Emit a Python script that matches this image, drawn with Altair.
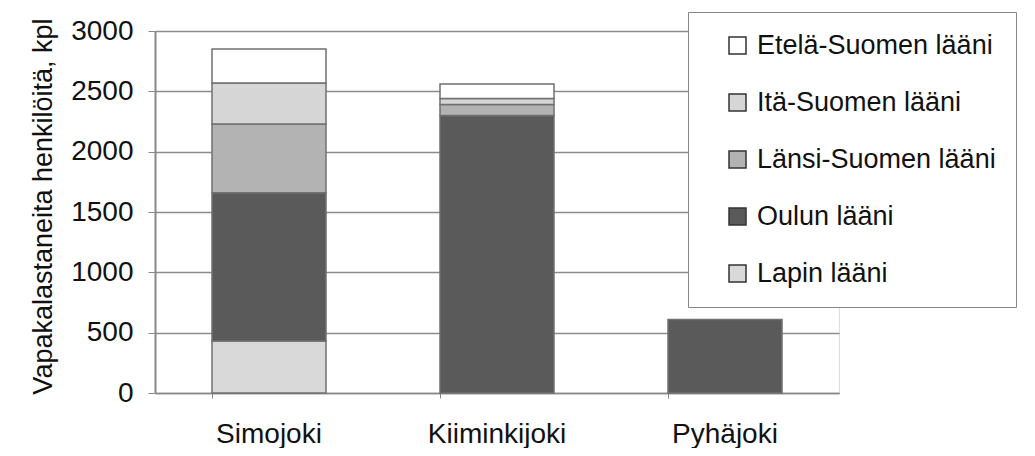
import altair as alt
import pandas as pd

rivers = ["Simojoki", "Kiiminkijoki", "Pyhäjoki"]
series = ["Etelä-Suomen lääni", "Itä-Suomen lääni", "Länsi-Suomen lääni", "Oulun lääni", "Lapin lääni"]
colors = ["#ffffff", "#d6d6d6", "#b3b3b3", "#5a5a5a", "#d9d9d9"]

lapin = [430, 0, 0]
oulun = [1230, 2300, 610]
lansi = [570, 90, 0]
ita = [340, 50, 0]
etela = [280, 120, 0]

values = {
    "Lapin lääni": lapin,
    "Oulun lääni": oulun,
    "Länsi-Suomen lääni": lansi,
    "Itä-Suomen lääni": ita,
    "Etelä-Suomen lääni": etela,
}
stack_order = {"Lapin lääni": 0, "Oulun lääni": 1, "Länsi-Suomen lääni": 2,
               "Itä-Suomen lääni": 3, "Etelä-Suomen lääni": 4}

rows = []
for s, vals in values.items():
    for r, v in zip(rivers, vals):
        rows.append({"joki": r, "lääni": s, "arvo": v, "ord": stack_order[s]})
df = pd.DataFrame(rows)

FONT = "Liberation Sans"

chart = alt.Chart(df).transform_filter(
    alt.datum.arvo > 0
).mark_bar(stroke="#707070", strokeWidth=1.5).encode(
    x=alt.X("joki:N", sort=rivers,
            scale=alt.Scale(paddingInner=0.5, paddingOuter=0.25),
            axis=alt.Axis(title=None, labelAngle=0, labelFontSize=28, labelFont=FONT,
                          labelColor="#111", labelPadding=22, tickSize=5, bandPosition=0,
                          domainColor="#888", domainWidth=1.5, tickColor="#888",
                          grid=False)),
    y=alt.Y("arvo:Q", stack="zero",
            scale=alt.Scale(domain=[0, 3000], nice=False),
            axis=alt.Axis(values=[0, 500, 1000, 1500, 2000, 2500, 3000], format="d",
                          title="Vapakalastaneita henkilöitä, kpl",
                          titleFontSize=27, titleFont=FONT, titleFontWeight="normal",
                          titleColor="#111", titleAngle=270, titleAlign="center",
                          titleBaseline="middle", titleX=-112, titleY=175,
                          labelFontSize=28, labelFont=FONT, labelColor="#111",
                          labelPadding=15, tickSize=7, tickColor="#888",
                          domainColor="#888", domainWidth=2,
                          gridColor="#8c8c8c", gridWidth=1.5)),
    color=alt.Color("lääni:N",
                    scale=alt.Scale(domain=series, range=colors),
                    legend=alt.Legend(title=None, orient="none", legendX=533, legendY=-19,
                                      symbolType="square", symbolSize=289,
                                      symbolStrokeColor="#333", symbolStrokeWidth=1.5,
                                      symbolOffset=16,
                                      labelFontSize=27, labelFont=FONT, labelColor="#111",
                                      labelOffset=6, rowPadding=29, padding=20,
                                      fillColor="white", strokeColor="#888",
                                      labelLimit=400)),
    order=alt.Order("ord:Q"),
).properties(
    width=684,
    height=362,
    autosize=alt.AutoSizeParams(type="none"),
    padding={"left": 147, "top": 23, "right": 188, "bottom": 55},
).configure_view(
    stroke="#999", strokeWidth=1.5
).configure(background="white")

chart.save("out.html", embed_options={"renderer": "svg", "actions": False})
